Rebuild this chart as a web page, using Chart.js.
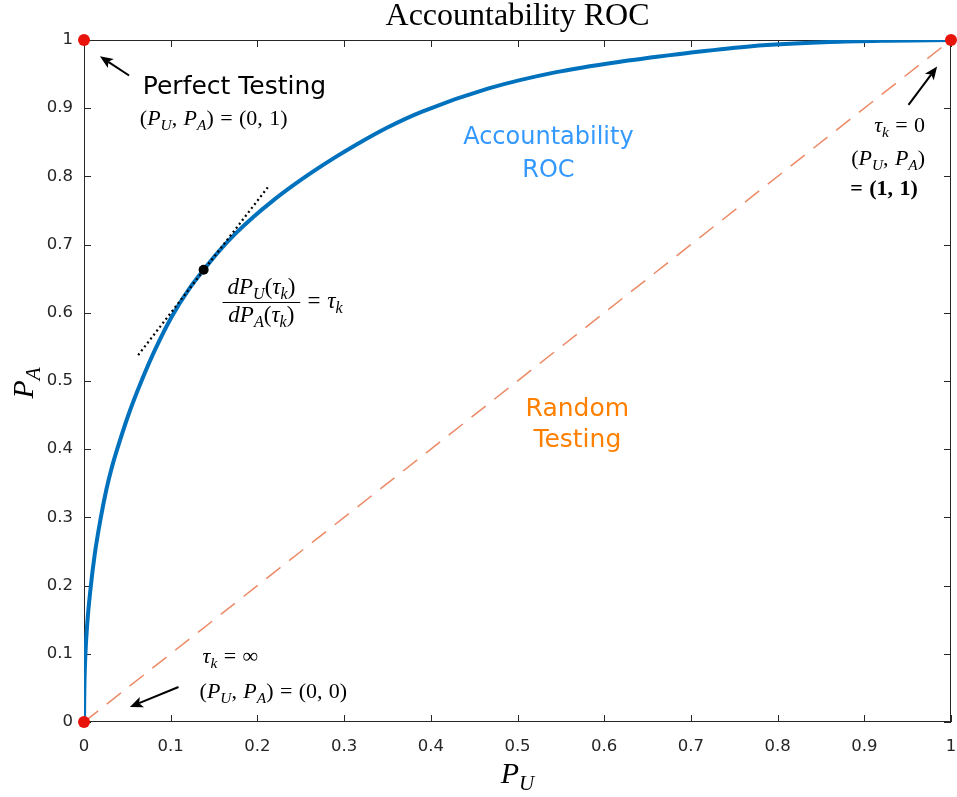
<!DOCTYPE html>
<html>
<head>
<meta charset="utf-8">
<title>Accountability ROC</title>
<script src="https://cdn.jsdelivr.net/npm/chart.js@4.4.1/dist/chart.umd.min.js"></script>
<style>
  html, body { margin: 0; padding: 0; background: #fff; }
  #roc { display: block; }
</style>
</head>
<body>
<canvas id="roc" width="957" height="797"></canvas>
<script>
// ROC curve (P_U on x, P_A on y)
const rocPU = [0, 0.0004, 0.0015, 0.0038, 0.0075, 0.0125, 0.019, 0.026, 0.0314, 0.0383, 0.0517, 0.065, 0.0824, 0.1015, 0.1207, 0.138, 0.155, 0.1755, 0.195, 0.2176, 0.24, 0.2636, 0.29, 0.3134, 0.35, 0.39, 0.4667, 0.5433, 0.62, 0.6966, 0.77, 0.86, 0.93, 1];
const rocPA = [0, 0.047, 0.096, 0.145, 0.195, 0.247, 0.297, 0.342, 0.370, 0.400, 0.452, 0.496, 0.547, 0.595, 0.634, 0.663, 0.6894, 0.7171, 0.7402, 0.7642, 0.7857, 0.8066, 0.8282, 0.8461, 0.8717, 0.895, 0.929, 0.9525, 0.9685, 0.981, 0.991, 0.997, 0.999, 1];

// random testing diagonal
const randomPU = [0, 1];
const randomPA = [0, 1];

// tangent at the tau_k point
const tangentPU = [0.0625, 0.2138];
const tangentPA = [0.538, 0.787];
const tauPointPU = [0.138];
const tauPointPA = [0.663];

// (0,0), (0,1), (1,1)
const cornerPU = [0, 0, 1];
const cornerPA = [0, 1, 1];

const xTickValues = [0, 0.1, 0.2, 0.3, 0.4, 0.5, 0.6, 0.7, 0.8, 0.9, 1];
const xTickLabels = ['0', '0.1', '0.2', '0.3', '0.4', '0.5', '0.6', '0.7', '0.8', '0.9', '1'];
const yTickValues = [0, 0.1, 0.2, 0.3, 0.4, 0.5, 0.6, 0.7, 0.8, 0.9, 1];
const yTickLabels = ['0', '0.1', '0.2', '0.3', '0.4', '0.5', '0.6', '0.7', '0.8', '0.9', '1'];

const serif = '"Liberation Serif", "DejaVu Serif", serif';
const sans = '"DejaVu Sans", "Liberation Sans", sans-serif';

const toPoints = (xs, ys) => xs.map((x, i) => ({ x: x, y: ys[i] }));

// text labels, placed in data coordinates (x, y = baseline)
const notes = [
    { kind: 'sans', text: 'Perfect Testing', x: 0.0678, y: 0.9204, size: 25, align: 'left', color: '#000' },
    { kind: 'math', text: '(P_U, P_A) = (0, 1)', x: 0.0644, y: 0.8754, size: 22, align: 'left' },
    { kind: 'sans', text: 'Accountability', x: 0.5356, y: 0.8475, size: 24, align: 'center', color: '#3399ff' },
    { kind: 'sans', text: 'ROC', x: 0.5356, y: 0.7996, size: 24, align: 'center', color: '#3399ff' },
    { kind: 'sans', text: 'Random', x: 0.569, y: 0.4487, size: 25, align: 'center', color: '#ff8000' },
    { kind: 'sans', text: 'Testing', x: 0.569, y: 0.4037, size: 25, align: 'center', color: '#ff8000' },
    { kind: 'math', text: 'dP_U(τ_k)', x: 0.2046, y: 0.6280, size: 23, align: 'center' },
    { kind: 'math', text: 'dP_A(τ_k)', x: 0.2046, y: 0.5872, size: 23, align: 'center' },
    { kind: 'math', text: '= τ_k', x: 0.2578, y: 0.6065, size: 23, align: 'left' },
    { kind: 'math', text: 'τ_k = ∞', x: 0.1368, y: 0.0861, size: 22, align: 'left' },
    { kind: 'math', text: '(P_U, P_A) = (0, 0)', x: 0.1333, y: 0.0353, size: 22, align: 'left' },
    { kind: 'math', text: 'τ_k = 0', x: 0.9701, y: 0.8655, size: 22, align: 'right' },
    { kind: 'math', text: '(P_U, P_A)', x: 0.9701, y: 0.8161, size: 22, align: 'right' },
    { kind: 'math', text: '= (1, 1)', x: 0.8839, y: 0.7727, size: 22, align: 'left', bold: true }
];

const fractionBar = { x1: 0.1598, x2: 0.2494, y: 0.6163 };

const arrows = [
    { from: [0.052, 0.948], to: [0.0184, 0.976] },
    { from: [0.109, 0.0513], to: [0.0529, 0.022] },
    { from: [0.951, 0.905], to: [0.984, 0.961] }
];

// tiny math layout: letters italic, digits/punctuation upright, _x = subscript
function mathRuns(src, size, bold) {
    const runs = [];
    for (let i = 0; i < src.length; i++) {
        let ch = src[i];
        let sub = false;
        if (ch === '_') { sub = true; ch = src[++i]; }
        if (ch === ' ') { runs.push({ space: 0.29 * size }); continue; }
        const italic = /[A-Za-zτ]/.test(ch);
        const s = sub ? size * 0.7 : size;
        const font = (italic ? 'italic ' : '') + (bold && !italic ? 'bold ' : '') + s + 'px ' + serif;
        runs.push({ text: ch, font: font, dy: sub ? size * 0.22 : 0 });
    }
    return runs;
}

function drawMath(ctx, src, x, y, size, align, bold) {
    const runs = mathRuns(src, size, bold);
    let total = 0;
    runs.forEach(r => {
        if (r.text) {
            ctx.font = r.font;
            r.w = ctx.measureText(r.text).width;
        } else {
            r.w = r.space;
        }
        total += r.w;
    });
    let cx = align === 'center' ? x - total / 2 : align === 'right' ? x - total : x;
    ctx.textAlign = 'left';
    ctx.textBaseline = 'alphabetic';
    ctx.fillStyle = '#000';
    runs.forEach(r => {
        if (r.text) {
            ctx.font = r.font;
            ctx.fillText(r.text, cx, y + r.dy);
        }
        cx += r.w;
    });
}

function drawArrow(ctx, x1, y1, x2, y2) {
    const ang = Math.atan2(y2 - y1, x2 - x1);
    const len = 13, half = 5.5, notch = 3;
    ctx.strokeStyle = '#000';
    ctx.fillStyle = '#000';
    ctx.lineWidth = 2;
    ctx.beginPath();
    ctx.moveTo(x1, y1);
    ctx.lineTo(x2 - Math.cos(ang) * (len - notch), y2 - Math.sin(ang) * (len - notch));
    ctx.stroke();
    ctx.save();
    ctx.translate(x2, y2);
    ctx.rotate(ang);
    ctx.beginPath();
    ctx.moveTo(0, 0);
    ctx.lineTo(-len, -half);
    ctx.lineTo(-len + notch, 0);
    ctx.lineTo(-len, half);
    ctx.closePath();
    ctx.fill();
    ctx.restore();
}

// MATLAB style box with inward ticks on all four sides
const boxPlugin = {
    id: 'boxPlugin',
    beforeDatasetsDraw(chart) {
        const { ctx, chartArea } = chart;
        const { left, right, top, bottom } = chartArea;
        const xs = chart.scales.x, ys = chart.scales.y;
        const tick = 7;
        ctx.save();
        ctx.strokeStyle = '#262626';
        ctx.lineWidth = 1;
        ctx.strokeRect(left + 0.5, top + 0.5, right - left - 1, bottom - top - 1);
        ctx.beginPath();
        xTickValues.forEach(v => {
            const px = Math.round(xs.getPixelForValue(v)) + 0.5;
            ctx.moveTo(px, bottom); ctx.lineTo(px, bottom - tick);
            ctx.moveTo(px, top); ctx.lineTo(px, top + tick);
        });
        yTickValues.forEach(v => {
            const py = Math.round(ys.getPixelForValue(v)) + 0.5;
            ctx.moveTo(left, py); ctx.lineTo(left + tick, py);
            ctx.moveTo(right, py); ctx.lineTo(right - tick, py);
        });
        ctx.stroke();
        ctx.restore();
    }
};

const notesPlugin = {
    id: 'notesPlugin',
    afterDatasetsDraw(chart) {
        const { ctx, chartArea } = chart;
        const xs = chart.scales.x, ys = chart.scales.y;
        const px = v => xs.getPixelForValue(v);
        const py = v => ys.getPixelForValue(v);
        ctx.save();

        notes.forEach(n => {
            if (n.kind === 'sans') {
                ctx.font = n.size + 'px ' + sans;
                ctx.fillStyle = n.color;
                ctx.textAlign = n.align;
                ctx.textBaseline = 'alphabetic';
                ctx.fillText(n.text, px(n.x), py(n.y));
            } else {
                drawMath(ctx, n.text, px(n.x), py(n.y), n.size, n.align, n.bold);
            }
        });

        ctx.strokeStyle = '#000';
        ctx.lineWidth = 1;
        ctx.beginPath();
        ctx.moveTo(px(fractionBar.x1), Math.round(py(fractionBar.y)) + 0.5);
        ctx.lineTo(px(fractionBar.x2), Math.round(py(fractionBar.y)) + 0.5);
        ctx.stroke();

        arrows.forEach(a => drawArrow(ctx, px(a.from[0]), py(a.from[1]), px(a.to[0]), py(a.to[1])));

        // axis labels
        const midX = (chartArea.left + chartArea.right) / 2;
        const midY = (chartArea.top + chartArea.bottom) / 2;
        drawMath(ctx, 'P_U', midX, 783, 30, 'center');
        ctx.translate(33, midY + 2);
        ctx.rotate(-Math.PI / 2);
        drawMath(ctx, 'P_A', 0, 0, 30, 'center');
        ctx.restore();
    }
};

const ctx = document.getElementById('roc').getContext('2d');

new Chart(ctx, {
    type: 'scatter',
    data: {
        datasets: [
            {
                label: 'Corners',
                data: toPoints(cornerPU, cornerPA),
                pointRadius: 6,
                pointBackgroundColor: '#e8140c',
                pointBorderWidth: 0,
                clip: false,
                order: 0
            },
            {
                label: 'Tangent point',
                data: toPoints(tauPointPU, tauPointPA),
                pointRadius: 5,
                pointBackgroundColor: '#000',
                pointBorderWidth: 0,
                order: 1
            },
            {
                label: 'Tangent',
                data: toPoints(tangentPU, tangentPA),
                showLine: true,
                borderColor: '#000',
                borderWidth: 2.2,
                borderDash: [2, 3],
                pointRadius: 0,
                order: 2
            },
            {
                label: 'Accountability ROC',
                data: toPoints(rocPU, rocPA),
                showLine: true,
                borderColor: '#0072bd',
                borderWidth: 4,
                pointRadius: 0,
                cubicInterpolationMode: 'monotone',
                order: 3
            },
            {
                label: 'Random Testing',
                data: toPoints(randomPU, randomPA),
                showLine: true,
                borderColor: '#ec8a66',
                borderWidth: 1.5,
                borderDash: [18, 11],
                pointRadius: 0,
                order: 4
            }
        ]
    },
    options: {
        responsive: false,
        animation: false,
        events: [],
        layout: { padding: { top: 0, right: 3, bottom: 0, left: 0 } },
        scales: {
            x: {
                type: 'linear',
                min: 0,
                max: 1,
                afterBuildTicks: s => { s.ticks = xTickValues.map(v => ({ value: v })); },
                afterFit: s => { s.height = 75; s.paddingLeft = 0; s.paddingRight = 0; },
                grid: { display: false, drawTicks: false },
                border: { display: false },
                ticks: {
                    callback: (v, i) => xTickLabels[i],
                    font: { family: sans, size: 16.5 },
                    color: '#262626',
                    padding: 15,
                    maxRotation: 0,
                    autoSkip: false
                }
            },
            y: {
                type: 'linear',
                min: 0,
                max: 1,
                afterBuildTicks: s => { s.ticks = yTickValues.map(v => ({ value: v })); },
                afterFit: s => { s.width = 84; s.paddingTop = 0; s.paddingBottom = 0; },
                grid: { display: false, drawTicks: false },
                border: { display: false },
                ticks: {
                    callback: (v, i) => yTickLabels[i],
                    font: { family: sans, size: 16.5 },
                    color: '#262626',
                    padding: 11,
                    autoSkip: false
                }
            }
        },
        plugins: {
            legend: { display: false },
            tooltip: { enabled: false },
            title: {
                display: true,
                fullSize: false,
                text: 'Accountability ROC',
                color: '#000',
                font: { family: serif, size: 32, weight: 'normal', lineHeight: 0.9 },
                padding: { top: 2, bottom: 9.2 }
            }
        }
    },
    plugins: [boxPlugin, notesPlugin]
});
</script>
</body>
</html>
